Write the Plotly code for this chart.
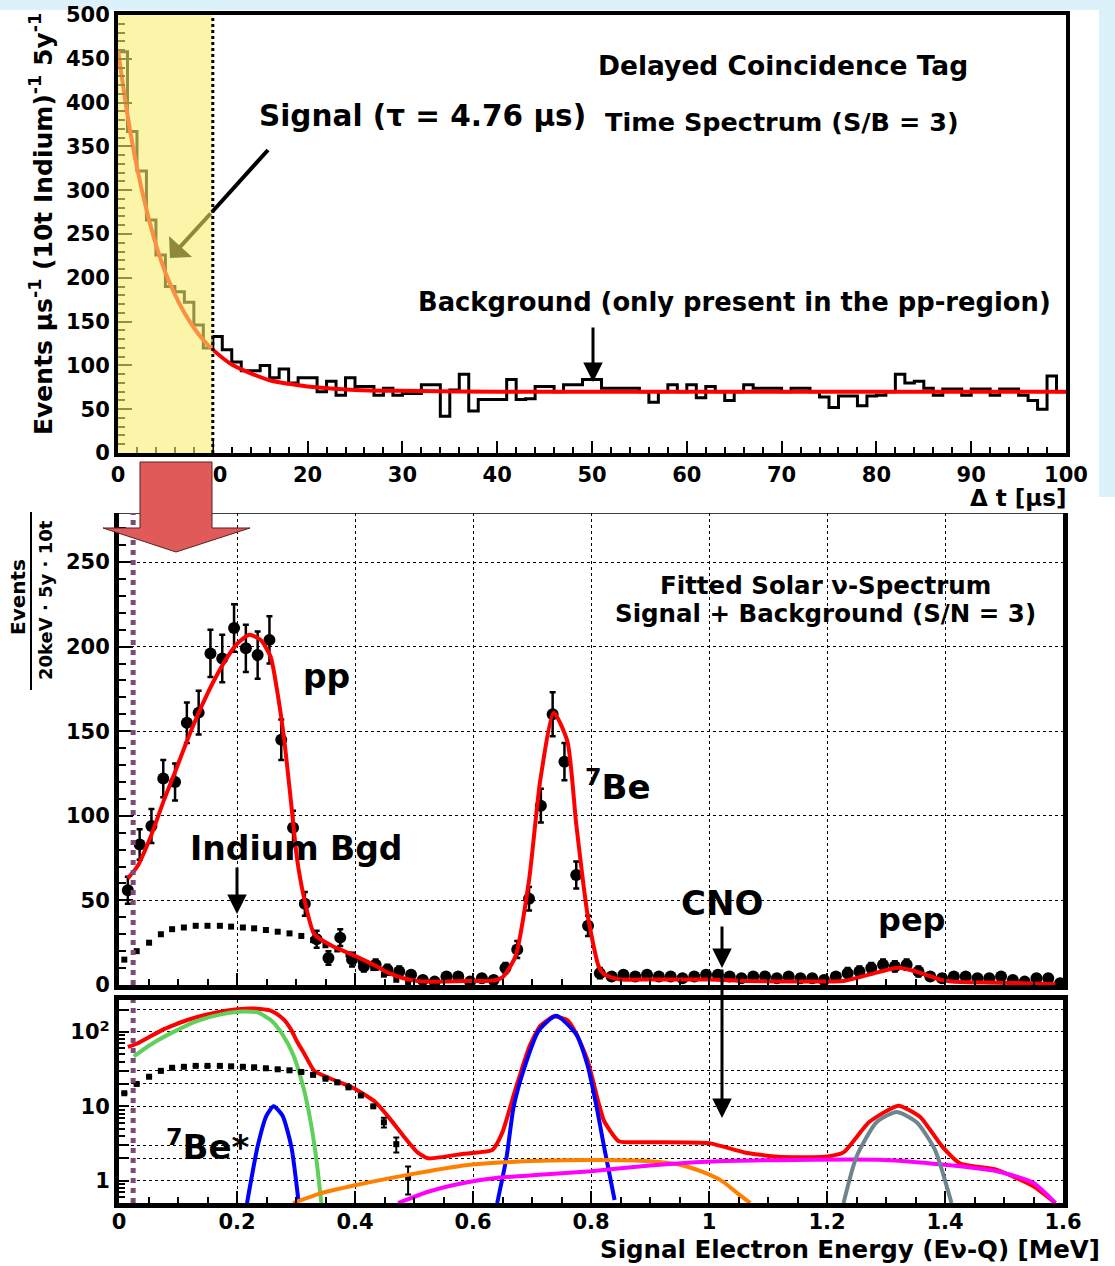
import plotly.graph_objects as go

W, H = 1115, 1266
FONT = "DejaVu Sans"

# ---------------- data: top panel (delayed coincidence time spectrum) ----------------
time_bin_edges = list(range(0, 101))
time_counts = [458, 367, 322, 266, 226, 190, 184, 172, 146, 120,
               133, 118, 104, 94, 94, 100, 86, 96, 80, 86,
               86, 70, 82, 66, 86, 76, 76, 66, 74, 66,
               68, 68, 78, 78, 42, 72, 90, 48, 61, 61,
               61, 84, 61, 62, 76, 76, 70, 78, 78, 84,
               84, 74, 74, 74, 74, 70, 58, 70, 78, 70,
               78, 63, 76, 70, 60, 70, 78, 74, 74, 74,
               70, 74, 74, 70, 64, 52, 65, 65, 54, 65,
               66, 70, 90, 80, 82, 74, 66, 73, 73, 66,
               73, 73, 66, 73, 73, 66, 60, 50, 88, 70]
fit_t = [0, 1, 2, 3, 4, 5, 6, 7, 8, 9, 10, 12, 14, 16, 18, 20, 25, 30, 40, 60, 80, 100]
fit_t_val = [460, 386, 326, 278, 238, 206, 181, 160, 143, 129, 118, 101, 91, 83, 79, 76, 72, 71, 70, 70, 70, 70]

# ---------------- data: middle panel (energy spectrum) ----------------
energy_centers = [0.015, 0.035, 0.055, 0.075, 0.095, 0.115, 0.135, 0.155, 0.175, 0.195,
                  0.215, 0.235, 0.255, 0.275, 0.295, 0.315, 0.335, 0.355, 0.375, 0.395,
                  0.415, 0.435, 0.455, 0.475, 0.495, 0.515, 0.535, 0.555, 0.575, 0.595,
                  0.615, 0.635, 0.655, 0.675, 0.695, 0.715, 0.735, 0.755, 0.775, 0.795,
                  0.815, 0.835, 0.855, 0.875, 0.895, 0.915, 0.935, 0.955, 0.975, 0.995,
                  1.015, 1.035, 1.055, 1.075, 1.095, 1.115, 1.135, 1.155, 1.175, 1.195,
                  1.215, 1.235, 1.255, 1.275, 1.295, 1.315, 1.335, 1.355, 1.375, 1.395,
                  1.415, 1.435, 1.455, 1.475, 1.495, 1.515, 1.535, 1.555, 1.575, 1.595]
energy_counts = [56, 83, 94, 122, 120, 155, 161, 196, 193, 211,
                 199, 195, 204, 145, 93, 48, 27, 16, 28, 15,
                 11, 12, 9, 8, 6, 3, 2, 5, 5, 2,
                 4, 3, 10, 21, 51, 106, 160, 132, 65, 35,
                 7, 5, 6, 5, 6, 5, 5, 4, 5, 6,
                 6, 5, 4, 5, 5, 4, 5, 4, 4, 3,
                 5, 7, 8, 10, 12, 11, 12, 8, 5, 4,
                 5, 5, 4, 4, 5, 3, 2, 4, 4, 1]
energy_errors = [8, 9, 10, 11, 11, 12, 13, 14, 14, 14,
                 14, 14, 14, 12, 10, 7, 5, 4, 5, 4,
                 3, 3, 3, 3, 2, 2, 1, 2, 2, 1,
                 2, 2, 3, 5, 7, 10, 13, 11, 8, 6,
                 3, 2, 2, 2, 2, 2, 2, 2, 2, 2,
                 2, 2, 2, 2, 2, 2, 2, 2, 2, 2,
                 2, 3, 3, 3, 3, 3, 3, 3, 2, 2,
                 2, 2, 2, 2, 2, 2, 1, 2, 2, 1]

fit_e = [0.015, 0.031, 0.054, 0.077, 0.094, 0.116, 0.139, 0.161, 0.184, 0.201,
         0.221, 0.240, 0.257, 0.268, 0.280, 0.291, 0.302, 0.314, 0.331, 0.359,
         0.398, 0.434, 0.458, 0.482, 0.506, 0.524, 0.584, 0.633, 0.650, 0.672,
         0.695, 0.714, 0.737, 0.760, 0.775, 0.794, 0.813, 0.822, 0.847, 0.90,
         1.0, 1.06, 1.116, 1.197, 1.228, 1.271, 1.321, 1.358, 1.395, 1.426,
         1.488, 1.55, 1.587]
fit_e_val = [63, 70, 88, 110, 125, 145, 164, 180, 194, 202,
             207, 204, 194, 174, 145, 110, 74, 51, 30, 23.5,
             17.5, 11.5, 7, 4, 2.4, 2.0, 2.3, 2.6, 4.5, 17,
             62, 121, 161, 144, 95, 42, 11, 6.4, 3.4, 3.3,
             3.2, 2.4, 2.1, 2.1, 2.4, 6.1, 10.2, 7.2, 2.9, 1.7,
             1.4, 0.84, 0.5]

indium_e = [0.009, 0.03, 0.051, 0.071, 0.09, 0.11, 0.13, 0.15, 0.171, 0.19,
            0.21, 0.229, 0.249, 0.269, 0.289, 0.309, 0.329, 0.35, 0.37, 0.389,
            0.41, 0.431, 0.449, 0.47, 0.49]
indium_val = [15, 20, 25, 30, 33, 34, 35, 35, 35, 34.5,
              34, 33.5, 32.5, 31.5, 30.5, 29, 26.5, 23.5, 21, 18,
              14, 10, 6.1, 3.1, 1.1]
indium_err = [0, 0, 0, 0, 0, 0, 0, 0, 0, 0,
              0, 0, 0, 0, 0, 0, 0, 0, 0, 0,
              0, 0, 0.9, 0.7, 0.45]

# ---------------- data: bottom panel components (log) ----------------
pp_e = [0.025, 0.054, 0.09, 0.133, 0.175, 0.211, 0.235, 0.259, 0.277, 0.295, 0.313, 0.325, 0.334, 0.343]
pp_val = [47, 68, 98, 141, 174, 189, 183, 141, 93, 50, 17.4, 6.1, 2.1, 0.5]
be7_e = [0.641, 0.657, 0.669, 0.687, 0.711, 0.741, 0.775, 0.794, 0.809, 0.822, 0.84]
be7_val = [0.5, 2.1, 10, 33, 103, 165, 93, 36, 10.3, 2.9, 0.55]
be7s_e = [0.217, 0.235, 0.25, 0.262, 0.277, 0.292, 0.304]
be7s_val = [0.5, 2.9, 7.5, 10, 7.5, 2.9, 0.55]
cno_e = [0.295, 0.343, 0.404, 0.464, 0.524, 0.584, 0.645, 0.713, 0.8, 0.9, 0.949, 0.986, 1.023, 1.048, 1.07]
cno_val = [0.5, 0.68, 0.88, 1.1, 1.34, 1.6, 1.75, 1.85, 1.9, 1.83, 1.65, 1.34, 0.98, 0.68, 0.5]
mag_e = [0.473, 0.524, 0.584, 0.645, 0.713, 0.8, 0.9, 0.998, 1.147, 1.296, 1.395, 1.488, 1.55, 1.587]
mag_val = [0.5, 0.71, 0.93, 1.1, 1.2, 1.34, 1.6, 1.8, 1.9, 1.9, 1.65, 1.34, 0.93, 0.5]
pep_e = [1.228, 1.25, 1.284, 1.318, 1.352, 1.383, 1.411]
pep_val = [0.5, 2.1, 6.1, 8.4, 6.1, 2.6, 0.5]

threshold_e = 0.024
log_tickvals = [1, 2, 3, 10, 20, 30, 100, 200]
log_ticktext = ["1", "", "", "10", "", "", "10<sup>2</sup>", ""]

# ---------------- helpers ----------------
def px(x):
    return x / W

def py(y):
    return 1 - y / H

def bfont(size, color="black"):
    return dict(family=FONT, weight="bold", size=size, color=color)

fig = go.Figure()

# top panel traces
fig.add_trace(go.Scatter(x=time_bin_edges, y=time_counts + [time_counts[-1]], mode="lines",
                         line=dict(color="black", width=3, shape="hv"), xaxis="x", yaxis="y"))
fig.add_trace(go.Scatter(x=fit_t, y=fit_t_val, mode="lines",
                         line=dict(color="#ff0000", width=4, shape="spline", smoothing=0.8),
                         xaxis="x", yaxis="y"))

# middle panel traces
fig.add_trace(go.Scatter(x=indium_e, y=indium_val, mode="markers",
                         marker=dict(symbol="square", size=6, color="black"),
                         xaxis="x2", yaxis="y2"))
fig.add_trace(go.Scatter(x=energy_centers, y=energy_counts, mode="markers",
                         marker=dict(symbol="circle", size=12, color="black"),
                         error_y=dict(type="data", array=energy_errors, color="black", thickness=2.5, width=3),
                         xaxis="x2", yaxis="y2"))
fig.add_trace(go.Scatter(x=fit_e, y=fit_e_val, mode="lines",
                         line=dict(color="#ff0000", width=4, shape="spline", smoothing=0.6),
                         xaxis="x2", yaxis="y2"))

# bottom panel traces
fig.add_trace(go.Scatter(x=fit_e, y=fit_e_val, mode="lines",
                         line=dict(color="#ff0000", width=4, shape="spline", smoothing=0.5),
                         xaxis="x3", yaxis="y3"))
fig.add_trace(go.Scatter(x=pp_e, y=pp_val, mode="lines",
                         line=dict(color="#5fd05a", width=4, shape="spline", smoothing=0.6),
                         xaxis="x3", yaxis="y3"))
fig.add_trace(go.Scatter(x=indium_e, y=indium_val, mode="markers",
                         marker=dict(symbol="square", size=6, color="black"),
                         error_y=dict(type="data", array=indium_err, color="black", thickness=2, width=3),
                         xaxis="x3", yaxis="y3"))
for ex, ev, col in [(be7s_e, be7s_val, "#0000ff"), (be7_e, be7_val, "#0000ff"),
                    (cno_e, cno_val, "#ff8000"), (mag_e, mag_val, "#ff00ff"),
                    (pep_e, pep_val, "#6f858d")]:
    fig.add_trace(go.Scatter(x=ex, y=ev, mode="lines",
                             line=dict(color=col, width=4, shape="spline", smoothing=0.6),
                             xaxis="x3", yaxis="y3"))

# ---------------- axes ----------------
axis_common = dict(showline=True, linecolor="black", ticks="inside", tickcolor="black",
                   zeroline=False, tickfont=bfont(21), automargin=False)

fig.update_layout(
    width=W, height=H, margin=dict(l=0, r=0, t=0, b=0, pad=0), autosize=False,
    paper_bgcolor="white", plot_bgcolor="white", showlegend=False,
    xaxis=dict(domain=[px(118), px(1066)], range=[0, 100], anchor="y", mirror=True, linewidth=4,
               dtick=10, ticklen=12, tickwidth=2, showgrid=False,
               minor=dict(dtick=2, ticks="inside", ticklen=6, tickcolor="black", tickwidth=1.5),
               **axis_common),
    yaxis=dict(domain=[py(453), py(15)], range=[0, 500], anchor="x", mirror=True, linewidth=4,
               dtick=50, ticklen=14, tickwidth=2, showgrid=False,
               minor=dict(dtick=10, ticks="inside", ticklen=7, tickcolor="black", tickwidth=1.5),
               **axis_common),
    xaxis2=dict(domain=[px(119), px(1063)], range=[0, 1.6], anchor="y2", mirror=False, linewidth=5,
                dtick=0.2, ticklen=12, tickwidth=2, showticklabels=False,
                showgrid=True, gridcolor="black", griddash="dot", gridwidth=1,
                minor=dict(dtick=0.05, ticks="inside", ticklen=6, tickcolor="black", tickwidth=1.5),
                **axis_common),
    yaxis2=dict(domain=[py(985), py(513)], range=[0, 279], anchor="x2", mirror=True, linewidth=5,
                dtick=50, ticklen=14, tickwidth=2,
                showgrid=True, gridcolor="black", griddash="dot", gridwidth=1,
                minor=dict(dtick=10, ticks="inside", ticklen=7, tickcolor="black", tickwidth=1.5),
                **axis_common),
    xaxis3=dict(domain=[px(119), px(1063)], range=[0, 1.6], anchor="y3", mirror=True, linewidth=5,
                dtick=0.2, ticklen=12, tickwidth=2, ticklabelstandoff=-4,
                showgrid=True, gridcolor="black", griddash="dot", gridwidth=1,
                minor=dict(dtick=0.05, ticks="inside", ticklen=6, tickcolor="black", tickwidth=1.5),
                **axis_common),
    yaxis3=dict(domain=[py(1203), py(1000)], type="log", range=[-0.3, 2.43], anchor="x3", mirror=True,
                linewidth=5, tickmode="array", tickvals=log_tickvals, ticktext=log_ticktext,
                ticklen=10, tickwidth=2,
                showgrid=True, gridcolor="black", griddash="dot", gridwidth=1,
                minor=dict(tickmode="array", tickvals=[0.6, 0.7, 0.8, 0.9, 4, 5, 6, 7, 8, 9, 40, 50, 60, 70, 80, 90],
                           ticks="inside", ticklen=6, tickcolor="black", tickwidth=1.5, showgrid=False),
                **axis_common),
)

# ---------------- shapes ----------------
shapes = []
# light-blue page border
shapes.append(dict(type="rect", xref="paper", yref="paper", x0=0, x1=1, y0=py(10), y1=1,
                   fillcolor="#dcf2fb", line=dict(width=0), layer="below"))
shapes.append(dict(type="rect", xref="paper", yref="paper", x0=px(1099), x1=1, y0=py(497), y1=1,
                   fillcolor="#dcf2fb", line=dict(width=0), layer="below"))
# yellow signal window (translucent, above)
shapes.append(dict(type="rect", xref="x", yref="y", x0=0, x1=10, y0=0, y1=500,
                   fillcolor="#f8ee70", opacity=0.6, line=dict(width=0), layer="above"))
shapes.append(dict(type="line", xref="x", yref="y", x0=10, x1=10, y0=0, y1=500,
                   line=dict(color="black", width=3, dash="dot"), layer="above"))
# top thin frame of middle panel
shapes.append(dict(type="line", xref="x2", yref="y2", x0=0, x1=1.6, y0=279, y1=279,
                   line=dict(color="black", width=1.5), layer="above"))
# threshold purple dotted lines
shapes.append(dict(type="line", xref="x2", yref="y2", x0=threshold_e, x1=threshold_e, y0=0, y1=279,
                   line=dict(color="#7d4a78", width=5, dash="dot"), layer="above"))
shapes.append(dict(type="line", xref="x3", yref="paper", x0=threshold_e, x1=threshold_e,
                   y0=py(1203), y1=py(1000), line=dict(color="#7d4a78", width=5, dash="dot"), layer="above"))
# big red arrow
arrow_pts = [(140, 462), (212, 462), (212, 528), (250, 528), (176, 552), (103, 528), (140, 528)]
path = "M " + " L ".join(f"{px(a):.5f},{py(b):.5f}" for a, b in arrow_pts) + " Z"
shapes.append(dict(type="path", xref="paper", yref="paper", path=path,
                   fillcolor="#e05a5a", line=dict(color="#5a2020", width=1), layer="above"))
# black part of Signal arrow (outside yellow window)
shapes.append(dict(type="line", xref="paper", yref="paper", x0=px(268), y0=py(150), x1=px(212), y1=py(212),
                   line=dict(color="black", width=4), layer="above"))
# fraction bar for middle y title
shapes.append(dict(type="line", xref="paper", yref="paper", x0=px(31), x1=px(31), y0=py(690), y1=py(512),
                   line=dict(color="black", width=2), layer="above"))
fig.update_layout(shapes=shapes)

# ---------------- annotations ----------------
ann = []

def text(t, x, y, size, xanchor="center", yanchor="middle", angle=0, color="black"):
    ann.append(dict(text=t, x=px(x), y=py(y), xref="paper", yref="paper", showarrow=False,
                    xanchor=xanchor, yanchor=yanchor, textangle=angle, font=bfont(size, color)))

def arrow(x_tip, y_tip, x_tail, y_tail, color="black", width=3, head=2, size=1.2):
    ann.append(dict(text="", x=px(x_tip), y=py(y_tip), xref="paper", yref="paper",
                    ax=x_tail - x_tip, ay=y_tail - y_tip, axref="pixel", ayref="pixel",
                    showarrow=True, arrowhead=head, arrowsize=size, arrowwidth=width, arrowcolor=color))

text("Delayed Coincidence Tag", 783, 66, 26.5)
text("Time Spectrum (S/B = 3)", 782, 122, 25.5)
text("Signal (τ = 4.76 µs)", 422, 116, 29.5)
text("Background (only present in the pp-region)", 734, 302, 25.8)
text("Δ t [µs]", 1068, 498, 23, xanchor="right")
text("Events µs<sup>-1</sup> (10t Indium)<sup>-1</sup> 5y<sup>-1</sup>", 42, 224, 25, angle=-90)

text("Fitted Solar ν-Spectrum", 825, 585, 24.5)
text("Signal + Background (S/N = 3)", 825, 614, 24.5)
text("pp", 326, 677, 33)
text("<sup>7</sup>Be", 618, 785, 34)
text("Indium Bgd", 296, 848, 33)
text("CNO", 722, 903, 34)
text("pep", 912, 920, 32)
text("Events", 18, 597, 20, angle=-90)
text("20keV · 5y · 10t", 45, 600, 18, angle=-90)

text("<sup>7</sup>Be*", 208, 1145, 34)
text("Signal Electron Energy (Eν-Q) [MeV]", 1102, 1249, 24.5, xanchor="right")

arrow(170, 258, 212, 212, color="#8f8a3a", width=4, head=1, size=1.3)
arrow(593, 382, 593, 326, width=3, head=2, size=1.3)
arrow(237, 914, 237, 866, width=3, head=2, size=1.3)
arrow(722, 968, 722, 925, width=3, head=2, size=1.3)
arrow(722, 1118, 722, 968, width=3, head=2, size=1.3)

fig.update_layout(annotations=ann)

fig.write_html("out.html")
